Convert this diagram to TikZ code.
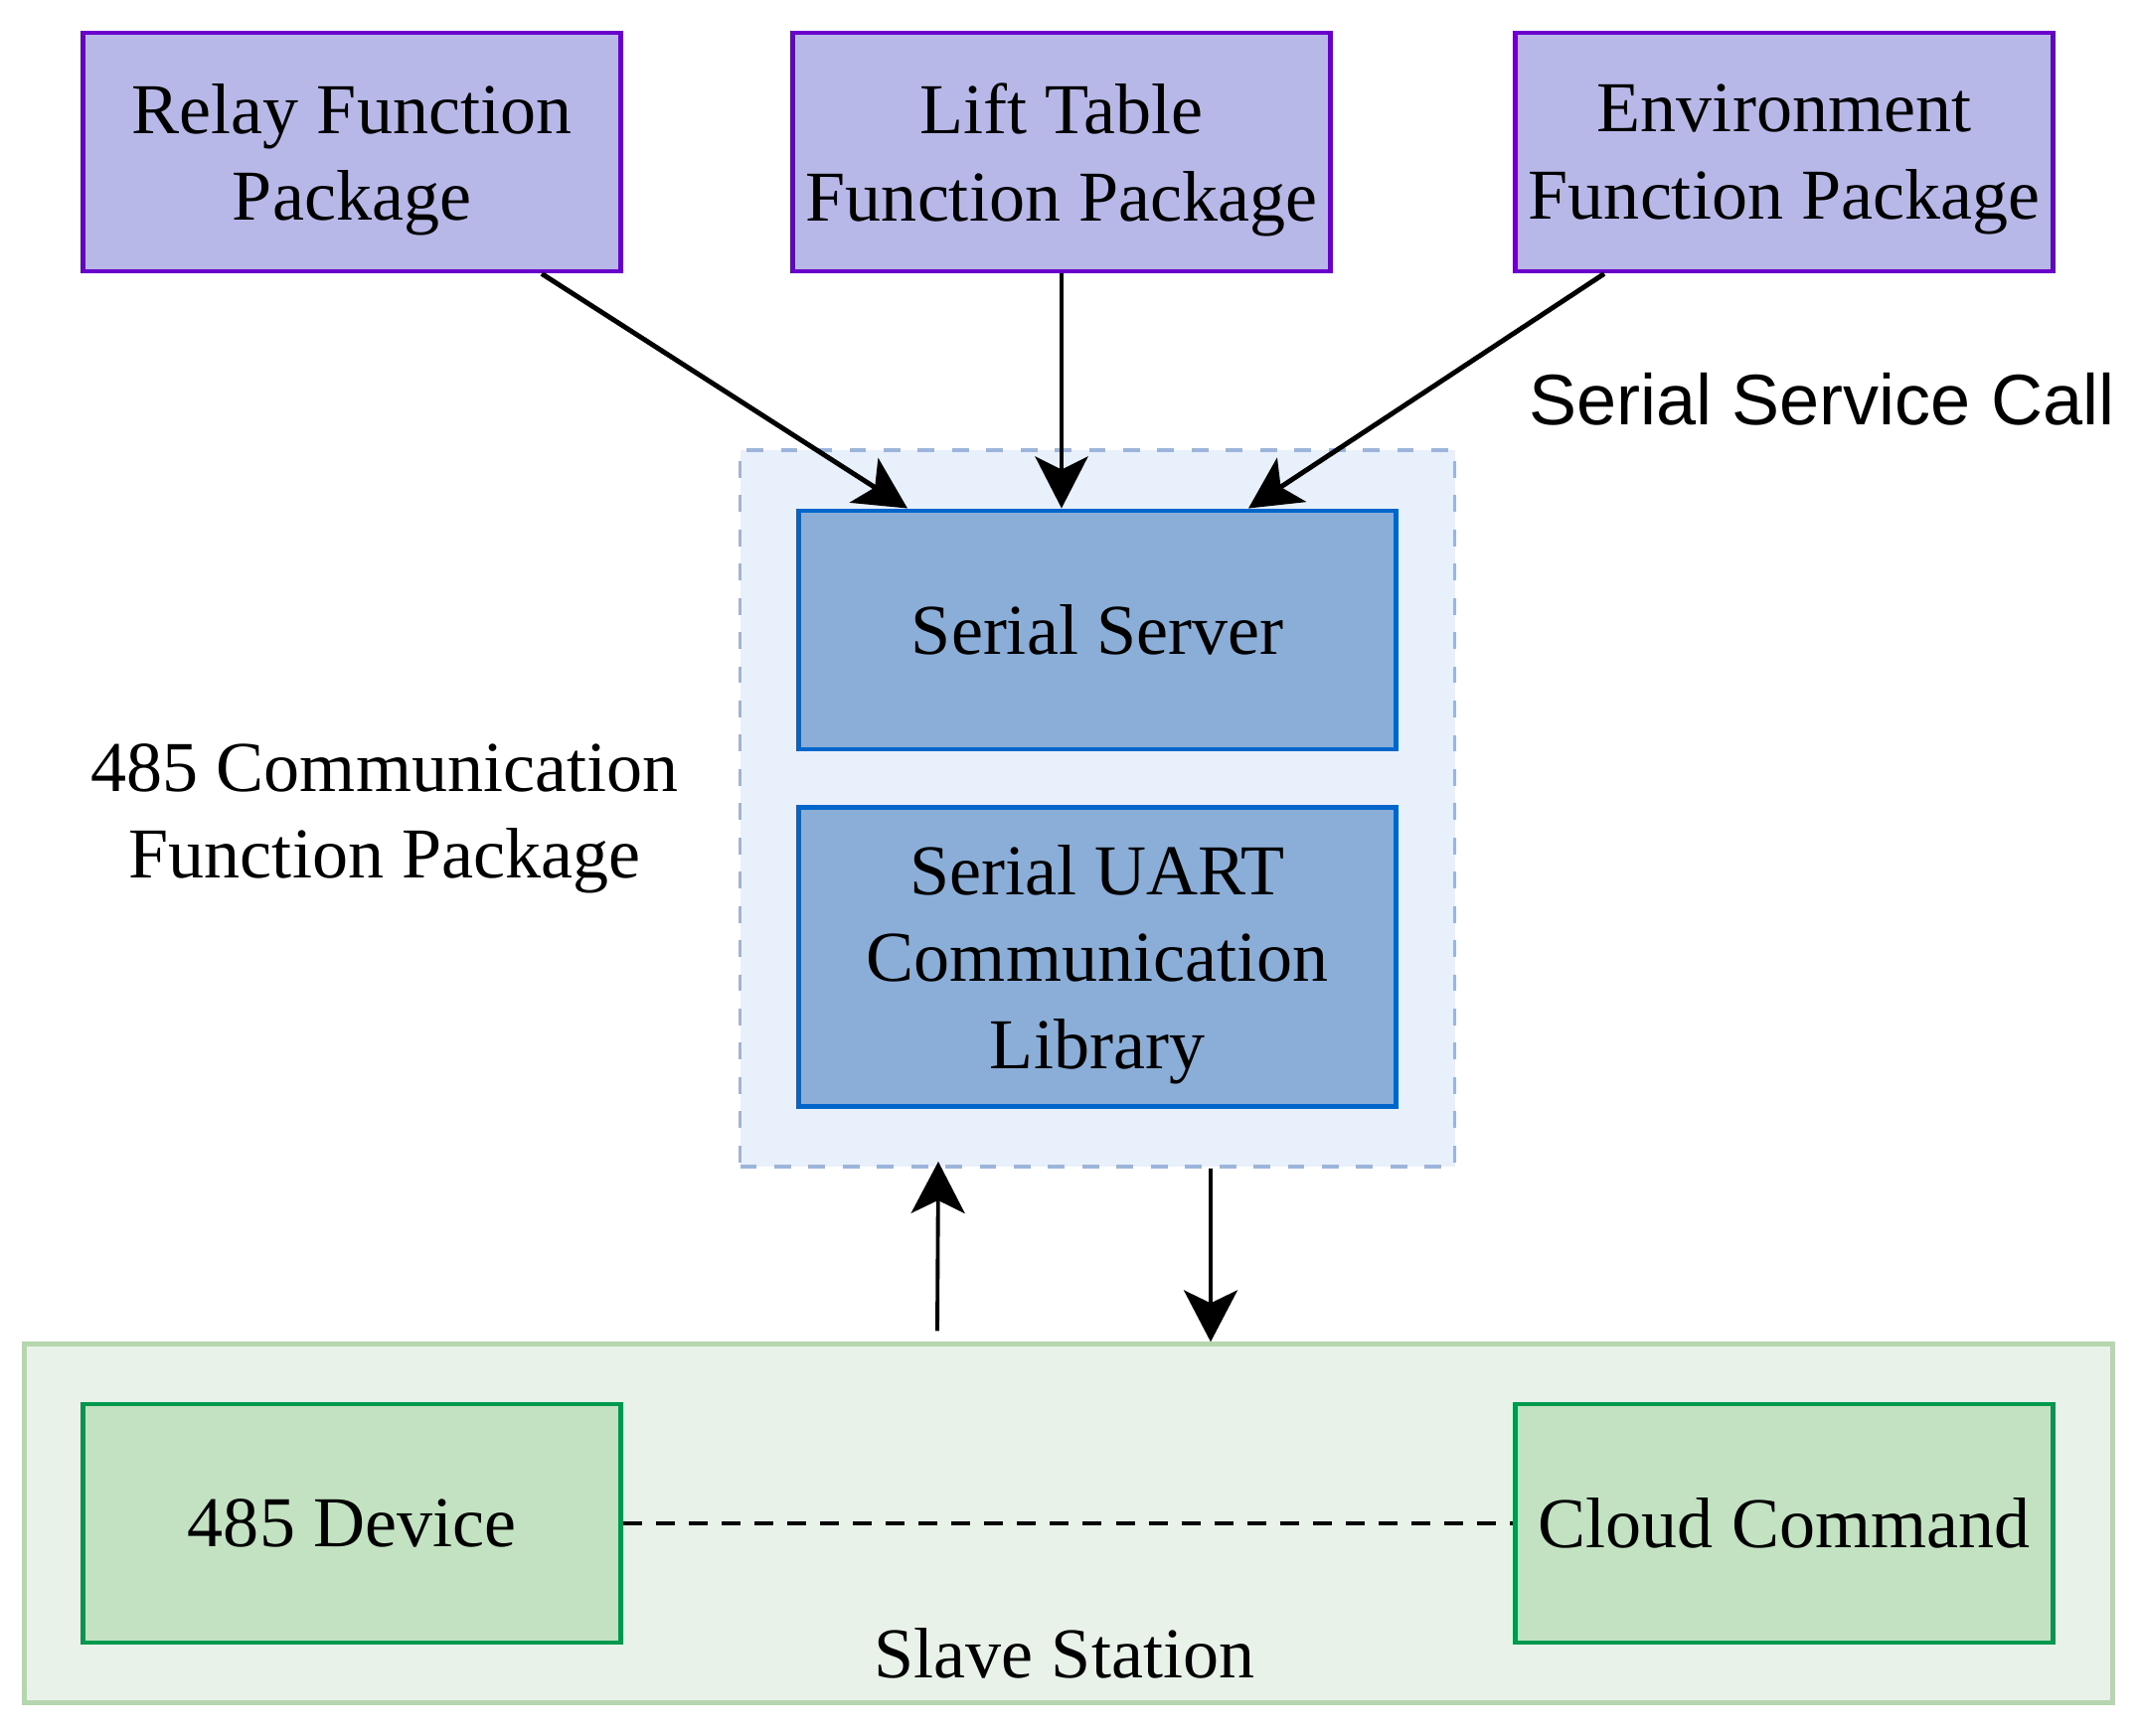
\documentclass[tikz,border=0pt]{standalone}
\usepackage{fontspec}
\setmainfont{Liberation Serif}
\newfontfamily\arialfont{Liberation Sans}
\usetikzlibrary{arrows.meta,calc,positioning}
\definecolor{fpborder}{HTML}{6A00CC}
\definecolor{fpfill}{HTML}{B8B8E8}
\definecolor{commborder}{HTML}{9DB5DA}
\definecolor{commfill}{HTML}{E8F0FB}
\definecolor{srvborder}{HTML}{0066CC}
\definecolor{srvfill}{HTML}{8AAED8}
\definecolor{slaveborder}{HTML}{B5D6AE}
\definecolor{slavefill}{HTML}{E8F2E8}
\definecolor{devborder}{HTML}{00994D}
\definecolor{devfill}{HTML}{C2E2C2}
\newcommand{\diagfont}{\fontsize{20.5}{25}\selectfont}
\tikzset{
  funcbox/.style={rectangle,draw=fpborder,fill=fpfill,line width=1.4pt,minimum width=5.41cm,minimum height=2.40cm,inner sep=2pt,text depth=0pt,align=center,font=\diagfont},
  commbox/.style={rectangle,draw=commborder,fill=commfill,line width=1.1pt,dash pattern=on 4.8pt off 5pt,minimum width=7.19cm,minimum height=7.21cm},
  srvbox/.style={rectangle,draw=srvborder,fill=srvfill,line width=1.4pt,minimum width=6.01cm,inner sep=2pt,text depth=0pt,align=center,font=\diagfont},
  slavebox/.style={rectangle,draw=slaveborder,fill=slavefill,line width=1.2pt,minimum width=21.01cm,minimum height=3.61cm},
  devbox/.style={rectangle,draw=devborder,fill=devfill,line width=1.4pt,minimum width=5.41cm,minimum height=2.40cm,inner sep=2pt,align=center,font=\diagfont},
  call/.style={-{Stealth[length=5.2mm,width=5.3mm,inset=1.3mm]},line width=1.4pt},
  link/.style={-{Stealth[length=5.2mm,width=5.4mm,inset=1.3mm]},line width=1.1pt},
  note/.style={align=center,text depth=0pt,font=\diagfont},
}

\begin{document}
\begin{tikzpicture}[x=1cm,y=1cm]
  \path[use as bounding box] (0,0) rectangle (21.53,17.46);
  \node[funcbox] (relay) at (3.54,15.93) {Relay Function\\Package};
  \node[funcbox] (lift) at (10.68,15.93) {Lift Table\\Function Package};
  \node[funcbox] (env) at (17.95,15.93) {Environment\\Function Package};
  \node[commbox] (comm) at (11.04,9.325) {};
  \node[srvbox,minimum height=2.40cm] (server) at (11.04,11.12) {Serial Server};
  \node[srvbox,minimum height=3.01cm] (uart) at (11.04,7.83) {Serial UART\\Communication\\Library};
  \node[note] (commlabel) at (3.87,9.30) {485 Communication\\Function Package};
  \node[font=\arialfont\fontsize{20.5}{25}\selectfont] (calllabel) at (18.33,13.44) {Serial Service Call};
  \node[slavebox] (slave) at (10.75,2.13) {};
  \node[devbox] (dev) at (3.54,2.13) {485 Device};
  \node[devbox] (cloud) at (17.95,2.13) {Cloud Command};
  \node[note] (slavelabel) at (10.71,0.82) {Slave Station};
  \draw[call] ($(relay.south)+(1.91,0)$) -- ($(server.north)+(-1.91,0)$);
  \draw[call] (lift.south) -- (lift.south |- server.north);
  \draw[call] ($(env.south)+(-1.81,0)$) -- ($(server.north)+(1.52,0)$);
  \draw[link] ($(slave.north)+(-1.32,.11)$) -- ($(comm.south)+(-1.60,.07)$);
  \draw[link] ($(comm.south)+(1.14,0)$) -- ($(slave.north)+(1.43,0)$);
  \draw[line width=1.4pt,dash pattern=on 5.4pt off 4pt] (dev) -- (cloud);
\end{tikzpicture}
\end{document}
